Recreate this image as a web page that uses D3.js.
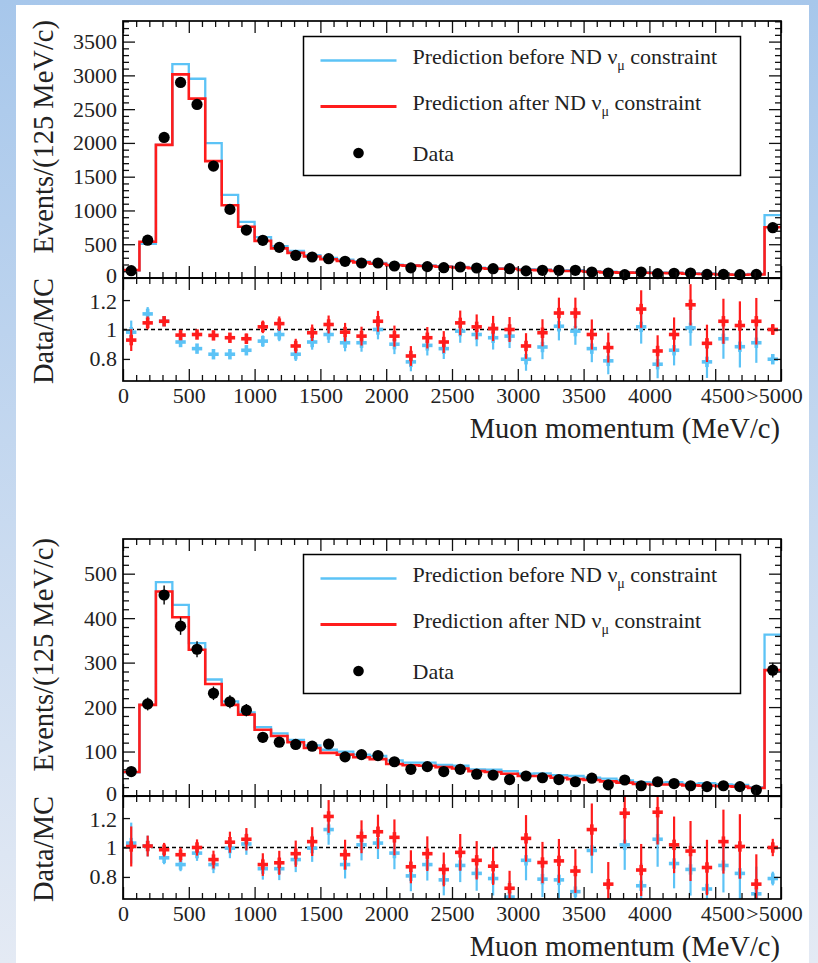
<!DOCTYPE html>
<html>
<head>
<meta charset="utf-8">
<script src="https://cdn.jsdelivr.net/npm/d3@7"></script>
<style>
html, body { margin: 0; padding: 0; }
body { width: 818px; height: 963px; overflow: hidden; }
</style>
</head>
<body>
<script>
// binning: 40 bins of 125 MeV/c, the last one is the overflow (>5000)
var binWidth = 125;
var xTickValues = [0, 500, 1000, 1500, 2000, 2500, 3000, 3500, 4000, 4500, 5000];
var xTickLabels = ["0", "500", "1000", "1500", "2000", "2500", "3000", "3500", "4000", "4500", ">5000"];
var legendLabels = ["Prediction before ND ", "Prediction after ND ", "Data"];

// top panel
var dataTop = [108, 560, 2081, 2895, 2570, 1657, 1016, 710, 558, 454, 335, 311, 286, 247, 222, 222, 178, 150, 168, 153,
	163, 148, 138, 138, 105, 114, 114, 114, 89, 74, 49, 89, 64, 70, 74, 54, 54, 49, 54, 745];
var afterTop = [116, 536, 1971, 3015, 2655, 1730, 1078, 758, 550, 438, 372, 318, 277, 252, 232, 210, 188, 183, 178, 167,
	156, 145, 137, 138, 118, 117, 103, 103, 92, 84, 80, 78, 75, 72, 63, 60, 51, 48, 51, 752];
var beforeTop = [110, 506, 1971, 3166, 2950, 1998, 1232, 830, 604, 472, 403, 340, 296, 271, 244, 222, 198, 192, 188, 176,
	165, 153, 146, 145, 132, 129, 112, 115, 102, 94, 88, 87, 84, 81, 73, 69, 58, 55, 59, 932];
var ratioAfterTop = [0.928, 1.045, 1.056, 0.962, 0.966, 0.960, 0.944, 0.937, 1.018, 1.040, 0.888, 0.978, 1.034, 0.982, 0.955, 1.056, 0.955, 0.820, 0.944, 0.915,
	1.045, 1.018, 1.007, 1.000, 0.888, 0.978, 1.112, 1.112, 0.966, 0.877, null, 1.139, 0.854, 0.966, 1.168, 0.906, 1.056, 1.027, 1.056, 1.000];
var ratioBeforeTop = [0.982, 1.106, 1.056, 0.915, 0.870, 0.832, 0.832, 0.859, 0.921, 0.966, 0.832, 0.915, 0.966, 0.910, 0.910, 1.000, 0.900, 0.780, 0.892, 0.870,
	0.989, 0.966, 0.944, 0.955, 0.798, 0.881, 1.022, 0.989, 0.870, 0.787, null, 1.018, 0.764, 0.859, 1.011, 0.780, 0.937, 0.883, 0.910, 0.798];
var relErrTop = [0.08, 0.042, 0.022, 0.019, 0.02, 0.025, 0.031, 0.038, 0.042, 0.047, 0.055, 0.057, 0.059, 0.064, 0.067, 0.067, 0.075, 0.082, 0.077, 0.081,
	0.08, 0.083, 0.085, 0.085, 0.098, 0.094, 0.094, 0.094, 0.106, 0.116, 0.143, 0.112, 0.125, 0.12, 0.12, 0.14, 0.145, 0.16, 0.15, 0.037];

// bottom panel
var dataBottom = [55, 207, 452, 382, 330, 231, 212, 193, 132, 121, 116, 112, 117, 88, 93, 91, 77, 60, 66, 55,
	60, 49, 47, 37, 45, 41, 37, 32, 40, 25, 36, 23, 32, 28, 23, 21, 23, 21, 13.5, 283];
var afterBottom = [54, 205, 460, 402, 329, 252, 205, 183, 149, 135, 121, 108, 97, 93, 87, 83, 72, 69, 68, 65,
	62, 56, 54, 50, 45, 45, 41, 38, 36, 33, 30, 27, 26, 26, 24, 23, 22, 21, 18, 283];
var beforeBottom = [53, 205, 481, 430, 344, 262, 213, 188, 155, 141, 126, 114, 104, 100, 93, 90, 80, 75, 75, 70,
	68, 60, 59, 56, 50, 51, 47, 45, 41, 39, 35, 31, 30, 31, 27, 29, 26, 25, 20, 363];
var ratioAfterBottom = [1.007, 1.010, 0.985, 0.951, 1.000, 0.918, 1.036, 1.056, 0.884, 0.896, 0.958, 1.040, 1.211, 0.951, 1.073, 1.107, 1.069, 0.869, 0.958, 0.851,
	0.967, 0.913, 0.873, 0.723, 1.062, 0.898, 0.909, 0.840, 1.122, 0.751, 1.233, 0.847, 1.240, 1.018, 0.976, 0.864, 1.040, 1.007, 0.751, 1.000];
var ratioBeforeBottom = [1.030, 1.010, 0.930, 0.884, 0.962, 0.884, 0.996, 1.024, 0.856, 0.856, 0.918, 0.996, 1.122, 0.884, 1.018, 1.030, 0.962, 0.807, 0.884, 0.780,
	0.878, 0.824, 0.789, 0.663, 0.913, 0.785, 0.780, 0.700, 0.980, null, 1.018, 0.740, 1.056, 0.891, 0.851, 0.718, 0.878, 0.824, 0.685, 0.789];
var relErrBottom = [0.135, 0.07, 0.047, 0.051, 0.055, 0.066, 0.069, 0.072, 0.087, 0.091, 0.093, 0.094, 0.092, 0.107, 0.104, 0.105, 0.114, 0.129, 0.123, 0.135,
	0.129, 0.143, 0.146, 0.164, 0.149, 0.156, 0.164, 0.177, 0.158, 0.2, 0.167, 0.209, 0.177, 0.189, 0.209, 0.218, 0.209, 0.218, 0.27, 0.059];

var W = 818, H = 963;
var FONT = "'Liberation Serif', 'Times New Roman', serif";
var BLUE = "#5cc3f6", RED = "#ff1c1c";
var left = 123, right = 781;

var svg = d3.select("body").append("svg")
	.attr("width", W)
	.attr("height", H);

var defs = svg.append("defs");
var grad = defs.append("linearGradient").attr("id", "bg")
	.attr("x1", 0).attr("y1", 0).attr("x2", 0).attr("y2", 1);
grad.append("stop").attr("offset", "0%").attr("stop-color", "#a7c7eb");
grad.append("stop").attr("offset", "100%").attr("stop-color", "#e4eaf4");
svg.append("rect").attr("width", W).attr("height", H).attr("fill", "url(#bg)");
svg.append("rect").attr("x", 16).attr("y", 5).attr("width", 793).attr("height", H - 5).attr("fill", "#fff");

var x = d3.scaleLinear().domain([0, 5000]).range([left, right]);

function minorTicks(max, step, major) {
	return d3.range(0, max + 0.001, step).filter(function(v) {
		return Math.abs(v / major - Math.round(v / major)) > 1e-6;
	});
}

function styleAxis(sel, size) {
	sel.select(".domain").remove();
	sel.selectAll("line").attr("stroke", "#111").attr("stroke-width", 1.3);
	sel.selectAll("text").attr("fill", "#222");
	sel.attr("font-family", FONT).attr("font-size", size || 22);
}

function stepPoints(vals) {
	var pts = vals.map(function(v, i) { return [i * binWidth, v]; });
	pts.push([vals.length * binWidth, vals[vals.length - 1]]);
	return pts;
}

function drawPanel(p, id) {
	var yTop = p.top, yMid = p.top + 257, yBot = p.top + 360;
	var y = d3.scaleLinear().domain([0, p.yMax]).range([yMid, yTop]);
	var yr = d3.scaleLinear().domain([0.65, 1.35]).range([yBot, yMid]);
	var g = svg.append("g");

	defs.append("clipPath").attr("id", "clipr" + id)
		.append("rect").attr("x", left).attr("y", yMid).attr("width", right - left).attr("height", yBot - yMid);

	// ---- histograms
	var line = d3.line()
		.x(function(d) { return x(d[0]); })
		.y(function(d) { return y(d[1]); })
		.curve(d3.curveStepAfter);
	g.append("path").attr("d", line(stepPoints(p.before)))
		.attr("fill", "none").attr("stroke", BLUE).attr("stroke-width", 2.3);
	g.append("path").attr("d", line(stepPoints(p.after)))
		.attr("fill", "none").attr("stroke", RED).attr("stroke-width", 2.6);

	// data points
	var pts = g.append("g").selectAll("g.pt")
		.data(p.data)
		.enter()
		.append("g")
		.attr("class", "pt");
	if (p.dataErr) {
		pts.append("line")
			.attr("x1", function(d, i) { return x((i + 0.5) * binWidth); })
			.attr("x2", function(d, i) { return x((i + 0.5) * binWidth); })
			.attr("y1", function(d, i) { return y(d * (1 + p.relErr[i])); })
			.attr("y2", function(d, i) { return y(d * (1 - p.relErr[i])); })
			.attr("stroke", "#000").attr("stroke-width", 1.4);
	}
	pts.append("circle")
		.attr("cx", function(d, i) { return x((i + 0.5) * binWidth); })
		.attr("cy", function(d) { return y(d); })
		.attr("r", 5.6)
		.attr("fill", "#000");

	// ---- ratio
	var rg = g.append("g").attr("clip-path", "url(#clipr" + id + ")");
	rg.append("line")
		.attr("x1", left).attr("x2", right)
		.attr("y1", yr(1)).attr("y2", yr(1))
		.attr("stroke", "#000").attr("stroke-width", 1.3).attr("stroke-dasharray", "4,3");

	[[p.rBefore, BLUE], [p.rAfter, RED]].forEach(function(s) {
		var m = rg.append("g").selectAll("g.m")
			.data(s[0].map(function(r, i) { return { r: r, i: i }; }).filter(function(d) { return d.r !== null; }))
			.enter()
			.append("g")
			.attr("class", "m")
			.attr("transform", function(d) {
				return "translate(" + x((d.i + 0.5) * binWidth) + "," + yr(d.r) + ")";
			});
		m.append("line")
			.attr("x1", 0).attr("x2", 0)
			.attr("y1", function(d) { return yr(d.r * (1 + p.relErr[d.i])) - yr(d.r); })
			.attr("y2", function(d) { return yr(d.r * (1 - p.relErr[d.i])) - yr(d.r); })
			.attr("stroke", s[1]).attr("stroke-width", 2.2);
		m.append("rect").attr("x", -5.2).attr("y", -1.8).attr("width", 10.4).attr("height", 3.6).attr("fill", s[1]);
		m.append("rect").attr("x", -1.8).attr("y", -5.2).attr("width", 3.6).attr("height", 10.4).attr("fill", s[1]);
	});

	// ---- axes
	var xMinor = minorTicks(5000, 100, 500);
	// upper plot: top and bottom
	g.append("g").attr("transform", "translate(0," + yTop + ")")
		.call(d3.axisBottom(x).tickValues(xTickValues).tickSize(12).tickFormat("")).call(styleAxis);
	g.append("g").attr("transform", "translate(0," + yTop + ")")
		.call(d3.axisBottom(x).tickValues(xMinor).tickSize(6).tickFormat("")).call(styleAxis);
	g.append("g").attr("transform", "translate(0," + yMid + ")")
		.call(d3.axisBottom(x).tickValues(xTickValues).tickSize(-12).tickFormat("")).call(styleAxis);
	g.append("g").attr("transform", "translate(0," + yMid + ")")
		.call(d3.axisBottom(x).tickValues(xMinor).tickSize(-6).tickFormat("")).call(styleAxis);
	// lower plot: top and bottom
	g.append("g").attr("transform", "translate(0," + yMid + ")")
		.call(d3.axisBottom(x).tickValues(xTickValues).tickSize(12).tickFormat("")).call(styleAxis);
	g.append("g").attr("transform", "translate(0," + yMid + ")")
		.call(d3.axisBottom(x).tickValues(xMinor).tickSize(6).tickFormat("")).call(styleAxis);
	var xb = g.append("g").attr("transform", "translate(0," + yBot + ")")
		.call(d3.axisBottom(x).tickValues(xTickValues).tickSize(-12).tickPadding(6)
			.tickFormat(function(d, i) { return xTickLabels[i]; }))
		.call(styleAxis);
	xb.selectAll("text").attr("dx", function(d) { return d === 4500 ? 7 : (d === 5000 ? -7 : 0); });
	g.append("g").attr("transform", "translate(0," + yBot + ")")
		.call(d3.axisBottom(x).tickValues(xMinor).tickSize(-6).tickFormat("")).call(styleAxis);

	// upper y axis
	var yMajor = d3.range(0, p.yMax, p.yStep);
	var yMinor = minorTicks(p.yMax, p.yMinorStep, p.yStep);
	var ya = g.append("g").attr("transform", "translate(" + left + ",0)")
		.call(d3.axisLeft(y).tickValues(yMajor).tickSize(-12).tickPadding(6).tickFormat(d3.format("d")))
		.call(styleAxis);
	// keep the "0" clear of the ratio labels below it
	ya.selectAll("text").filter(function(d) { return d === 0; }).attr("y", -2.5);
	g.append("g").attr("transform", "translate(" + left + ",0)")
		.call(d3.axisLeft(y).tickValues(yMinor).tickSize(-6).tickFormat("")).call(styleAxis);
	g.append("g").attr("transform", "translate(" + right + ",0)")
		.call(d3.axisRight(y).tickValues(yMajor).tickSize(-12).tickFormat("")).call(styleAxis);
	g.append("g").attr("transform", "translate(" + right + ",0)")
		.call(d3.axisRight(y).tickValues(yMinor).tickSize(-6).tickFormat("")).call(styleAxis);

	// ratio y axis
	var yra = g.append("g").attr("transform", "translate(" + left + ",0)")
		.call(d3.axisLeft(yr).tickValues([0.8, 1, 1.2]).tickSize(-7).tickPadding(6)
			.tickFormat(function(d) { return d === 1 ? "1" : d3.format(".1f")(d); }))
		.call(styleAxis);
	yra.selectAll("text").filter(function(d) { return d === 1.2; }).attr("y", 1);
	g.append("g").attr("transform", "translate(" + right + ",0)")
		.call(d3.axisRight(yr).tickValues([0.8, 1, 1.2]).tickSize(-7).tickFormat("")).call(styleAxis);

	// frames
	g.append("rect").attr("x", left).attr("y", yTop).attr("width", right - left).attr("height", yMid - yTop)
		.attr("fill", "none").attr("stroke", "#000").attr("stroke-width", 1.7);
	g.append("rect").attr("x", left).attr("y", yMid).attr("width", right - left).attr("height", yBot - yMid)
		.attr("fill", "none").attr("stroke", "#000").attr("stroke-width", 1.7);

	// axis titles
	g.append("text")
		.attr("transform", "translate(53," + (yTop - 1) + ") rotate(-90)")
		.attr("text-anchor", "end")
		.attr("font-family", FONT).attr("font-size", 28.5).attr("fill", "#222")
		.text("Events/(125 MeV/c)");
	g.append("text")
		.attr("transform", "translate(53," + yMid + ") rotate(-90)")
		.attr("text-anchor", "end")
		.attr("font-family", FONT).attr("font-size", 28.5).attr("fill", "#222")
		.text("Data/MC");
	g.append("text")
		.attr("x", right - 1).attr("y", yBot + 57)
		.attr("text-anchor", "end")
		.attr("font-family", FONT).attr("font-size", 28.5).attr("fill", "#222")
		.text("Muon momentum (MeV/c)");

	// legend
	var lg = g.append("g").attr("transform", "translate(303.5," + (yTop + 15.5) + ")");
	lg.append("rect").attr("width", 437).attr("height", 139)
		.attr("fill", "#fff").attr("stroke", "#000").attr("stroke-width", 1.5);
	var rows = [24, 70, 116.5];
	lg.append("line").attr("x1", 17).attr("x2", 93).attr("y1", rows[0]).attr("y2", rows[0])
		.attr("stroke", BLUE).attr("stroke-width", 2.3);
	lg.append("line").attr("x1", 17).attr("x2", 93).attr("y1", rows[1]).attr("y2", rows[1])
		.attr("stroke", RED).attr("stroke-width", 2.8);
	lg.append("circle").attr("cx", 55).attr("cy", rows[2]).attr("r", 5.3).attr("fill", "#000");
	legendLabels.forEach(function(t, i) {
		var tx = lg.append("text")
			.attr("x", 109).attr("y", rows[i] + (i < 2 ? 3 : 7.5))
			.attr("font-family", FONT).attr("font-size", 22).attr("fill", "#222");
		tx.append("tspan").text(t);
		if (i < 2) {
			tx.append("tspan").text("\u03bd");
			tx.append("tspan").attr("font-size", 14).attr("dy", 6).text("\u03bc");
			tx.append("tspan").attr("dy", -6).text(" constraint");
		}
	});
}

drawPanel({ top: 21, yMax: 3805, yStep: 500, yMinorStep: 100,
	data: dataTop, after: afterTop, before: beforeTop,
	rAfter: ratioAfterTop, rBefore: ratioBeforeTop, relErr: relErrTop, dataErr: false }, 1);
drawPanel({ top: 539, yMax: 578, yStep: 100, yMinorStep: 20,
	data: dataBottom, after: afterBottom, before: beforeBottom,
	rAfter: ratioAfterBottom, rBefore: ratioBeforeBottom, relErr: relErrBottom, dataErr: true }, 2);
</script>
</body>
</html>
